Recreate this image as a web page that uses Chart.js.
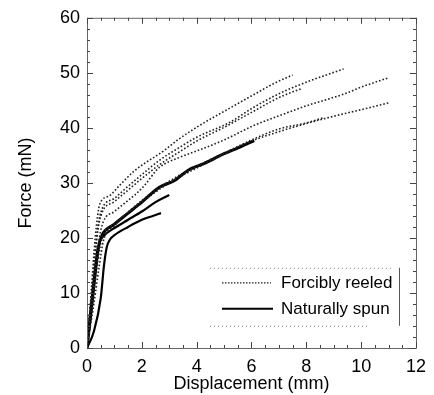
<!DOCTYPE html>
<html>
<head>
<meta charset="utf-8">
<script src="https://cdn.jsdelivr.net/npm/chart.js@4"></script>
<style>
  html, body { margin: 0; padding: 0; background: #fff; }
  #wrap { width: 434px; height: 395px; position: relative; }
</style>
</head>
<body>
<div id="wrap"><canvas id="chart" width="434" height="395"></canvas></div>
<script>
// ---- data ----
const xTicks = [0, 2, 4, 6, 8, 10, 12];
const yTicks = [0, 10, 20, 30, 40, 50, 60];

// Forcibly reeled (dotted)
const reeledAX = [0, 0.15, 0.3, 0.47, 0.8, 1.2, 1.73, 2.82, 3.36, 4.26, 5, 6.14, 6.87, 7.5];
const reeledAY = [0, 10, 20, 26.2, 27.6, 29.6, 32.2, 35.9, 38, 40.9, 43, 46.2, 48.2, 49.6];
const reeledBX = [0, 0.2, 0.4, 0.55, 1, 1.5, 2, 2.64, 3.36, 4, 5.17, 6.07, 7, 8, 9.36];
const reeledBY = [0, 12, 22, 25.3, 27.2, 29.4, 31.5, 34.1, 36.4, 38.3, 40.9, 43.7, 46.2, 48.3, 50.7];
const reeledCX = [0, 0.2, 0.4, 0.55, 1, 1.5, 2, 2.64, 3.36, 4, 5, 6.07, 7, 7.8];
const reeledCY = [0, 12, 21.5, 24.6, 26.6, 28.7, 30.8, 33.3, 35.6, 37.6, 40.1, 43, 45.5, 47.1];
const reeledDX = [0, 0.2, 0.45, 0.6, 1, 2, 2.64, 3.36, 4, 5, 6.07, 7, 8, 9.4, 10, 11];
const reeledDY = [0, 10, 20, 23, 24.8, 29, 32.8, 34.6, 35.8, 37.8, 40.4, 42.2, 44, 46.2, 47.4, 49.1];
const reeledEX = [0, 0.2, 0.4, 0.55, 1, 2, 3, 4, 5, 6, 7, 8, 9.4, 10, 11.05];
const reeledEY = [0, 8, 16, 20, 22.5, 26.5, 30, 32.7, 35.2, 37.6, 39.3, 40.8, 42.6, 43.3, 44.6];
const reeledFX = [0, 0.25, 0.45, 0.6, 1, 2, 3, 4, 5, 6, 7, 8, 8.6];
const reeledFY = [0, 8, 15, 19.5, 22.2, 26.8, 30.3, 33, 35.4, 37.8, 39.8, 40.9, 41.8];

// Naturally spun (solid)
const spun1X = [0, 0.1, 0.25, 0.4, 0.55, 1, 1.5, 2, 2.64, 3.18, 3.72, 4.26, 5, 5.53, 6.1];
const spun1Y = [0, 5, 12, 18, 20.5, 22.5, 24.5, 26.5, 29.2, 30.4, 32.4, 33.5, 35.3, 36.4, 37.7];
const spun2X = [0, 0.15, 0.3, 0.45, 0.6, 1, 1.5, 2, 2.5, 3.0];
const spun2Y = [0, 6, 13, 19, 20.3, 21.8, 23.3, 24.8, 26.5, 27.8];
const spun3X = [0, 0.25, 0.5, 0.62, 0.72, 0.85, 1, 1.5, 2, 2.4, 2.7];
const spun3Y = [0, 3, 9, 15, 18.3, 19.8, 20.5, 22, 23.3, 24, 24.5];

const legendLabels = ['Forcibly reeled', 'Naturally spun'];

const FONT = '"Liberation Sans", Arial, Helvetica, sans-serif';

function pts(xs, ys) {
    return xs.map((x, i) => ({ x: x, y: ys[i] }));
}

function dotted(xs, ys) {
    return {
        data: pts(xs, ys),
        showLine: true,
        borderColor: '#222',
        borderWidth: 1.6,
        borderDash: [1.6, 2],
        pointRadius: 0,
        cubicInterpolationMode: 'monotone'
    };
}

function solid(xs, ys, w) {
    return {
        data: pts(xs, ys),
        showLine: true,
        borderColor: '#000',
        borderWidth: w,
        pointRadius: 0,
        cubicInterpolationMode: 'monotone'
    };
}

// inward ticks on all four sides + frame
const frameTicks = {
    id: 'frameTicks',
    afterDatasetsDraw(chart) {
        const ctx = chart.ctx;
        const xs = chart.scales.x, ys = chart.scales.y;
        const a = chart.chartArea;
        ctx.save();
        ctx.strokeStyle = '#666';
        ctx.lineWidth = 1;
        ctx.beginPath();
        ctx.moveTo(a.left + 0.5, a.top + 0.5);
        ctx.lineTo(a.right + 0.5, a.top + 0.5);
        ctx.lineTo(a.right + 0.5, a.bottom + 0.5);
        ctx.lineTo(a.left + 0.5, a.bottom + 0.5);
        ctx.closePath();
        ctx.stroke();
        ctx.strokeStyle = '#444';
        ctx.beginPath();
        for (let v = 0; v <= 12.001; v += 0.5) {
            const p = Math.round(xs.getPixelForValue(v)) + 0.5;
            const len = (Math.abs(v % 2) < 0.01) ? 6 : 3;
            ctx.moveTo(p, a.bottom); ctx.lineTo(p, a.bottom - len);
            ctx.moveTo(p, a.top); ctx.lineTo(p, a.top + len);
        }
        for (let v = 0; v <= 60.001; v += 2) {
            const p = Math.round(ys.getPixelForValue(v)) + 0.5;
            const len = (Math.abs(v % 10) < 0.01) ? 6 : 3;
            ctx.moveTo(a.left, p); ctx.lineTo(a.left + len, p);
            ctx.moveTo(a.right, p); ctx.lineTo(a.right - len, p);
        }
        ctx.stroke();
        ctx.restore();
    }
};

// legend box inside the plot
const innerLegend = {
    id: 'innerLegend',
    afterDraw(chart) {
        const ctx = chart.ctx;
        const a = chart.chartArea;
        const boxL = a.left + 123, boxR = a.right - 17;
        const boxT = a.top + 250, boxB = a.top + 308;
        ctx.save();
        ctx.fillStyle = '#fff';
        ctx.fillRect(boxL, boxT, boxR - boxL, boxB - boxT);
        ctx.strokeStyle = '#888';
        ctx.lineWidth = 1;
        ctx.setLineDash([1, 3]);
        ctx.beginPath();
        ctx.moveTo(boxL, boxT + 0.5); ctx.lineTo(boxR - 8, boxT + 0.5);
        ctx.moveTo(boxL, boxB + 0.5); ctx.lineTo(boxR - 30, boxB + 0.5);
        ctx.stroke();
        ctx.setLineDash([]);
        ctx.strokeStyle = '#555';
        ctx.beginPath();
        ctx.moveTo(boxR + 0.5, boxT); ctx.lineTo(boxR + 0.5, boxB);
        ctx.stroke();

        const sx0 = boxL + 12, sx1 = boxL + 61, tx = boxL + 71;
        const y1 = boxT + 15, y2 = boxT + 41;
        ctx.strokeStyle = '#222';
        ctx.lineWidth = 1.2;
        ctx.setLineDash([1.5, 1.5]);
        ctx.beginPath(); ctx.moveTo(sx0, y1); ctx.lineTo(sx1, y1); ctx.stroke();
        ctx.setLineDash([]);
        ctx.strokeStyle = '#000';
        ctx.lineWidth = 2;
        ctx.beginPath(); ctx.moveTo(sx0, y2); ctx.lineTo(sx1 + 2, y2); ctx.stroke();

        ctx.fillStyle = '#000';
        ctx.font = '17px ' + FONT;
        ctx.textBaseline = 'middle';
        ctx.textAlign = 'left';
        ctx.fillText(legendLabels[0], tx, y1 + 1);
        ctx.fillText(legendLabels[1], tx, y2 + 1);
        ctx.restore();
    }
};

new Chart(document.getElementById('chart'), {
    type: 'scatter',
    data: {
        datasets: [
            dotted(reeledAX, reeledAY),
            dotted(reeledBX, reeledBY),
            dotted(reeledCX, reeledCY),
            dotted(reeledDX, reeledDY),
            dotted(reeledEX, reeledEY),
            dotted(reeledFX, reeledFY),
            solid(spun3X, spun3Y, 2.2),
            solid(spun2X, spun2Y, 2.2),
            solid(spun1X, spun1Y, 3)
        ]
    },
    options: {
        responsive: false,
        animation: false,
        layout: { padding: { left: 0, right: 15, top: 17, bottom: 0 } },
        plugins: { legend: { display: false }, tooltip: { enabled: false } },
        scales: {
            x: {
                type: 'linear',
                min: 0, max: 12,
                afterFit: s => { s.height = 47; },
                afterBuildTicks: s => { s.ticks = xTicks.map(v => ({ value: v })); },
                grid: { display: false, drawTicks: false },
                border: { display: false },
                ticks: { color: '#000', padding: 8, font: { family: FONT, size: 18 } },
                title: { display: true, text: 'Displacement (mm)', color: '#000',
                         padding: { top: 0, bottom: 0 }, font: { family: FONT, size: 18 } }
            },
            y: {
                type: 'linear',
                min: 0, max: 60,
                afterFit: s => { s.width = 87; },
                afterBuildTicks: s => { s.ticks = yTicks.map(v => ({ value: v })); },
                grid: { display: false, drawTicks: false },
                border: { display: false },
                ticks: { color: '#000', padding: 7, font: { family: FONT, size: 18 } },
                title: { display: true, text: 'Force (mN)', color: '#000',
                         padding: { top: 15, bottom: 0 }, font: { family: FONT, size: 18 } }
            }
        }
    },
    plugins: [frameTicks, innerLegend]
});
</script>
</body>
</html>
